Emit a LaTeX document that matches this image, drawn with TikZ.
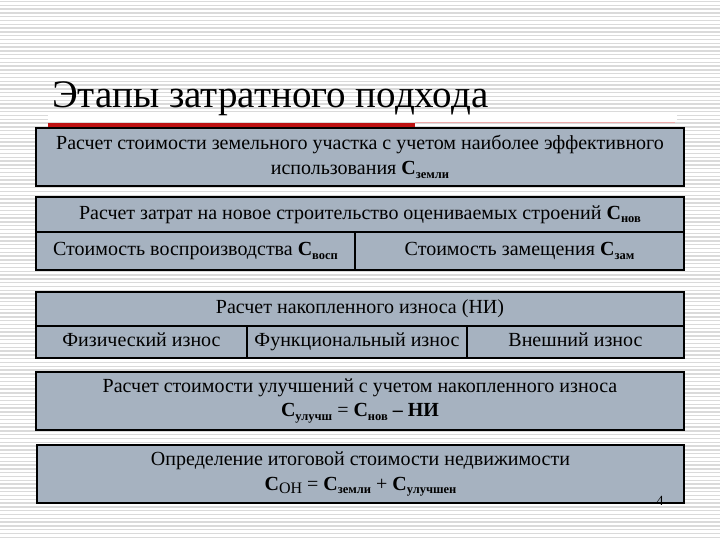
\documentclass[tikz,border=0pt]{standalone}
\usepackage{fontspec}
\setmainfont{Liberation Serif}
\definecolor{boxfill}{RGB}{166,178,192}
\definecolor{stripecol}{RGB}{218,218,218}
\definecolor{redbar}{RGB}{190,18,18}
\definecolor{pinkline}{RGB}{238,170,170}
\newcommand{\mysub}[1]{\raisebox{-0.4ex}{\fontsize{12.5}{12.5}\selectfont\bfseries #1}}
\newcommand{\bigC}{\textbf{С}}
\begin{document}
\begin{tikzpicture}[x=1pt,y=-1pt,
  cell/.style={draw=black, line width=1.2pt, fill=boxfill, inner sep=0pt,
    font=\fontsize{20}{25}\selectfont, align=center},
  oneline/.style={cell, text height=13.5pt, text depth=4.5pt},
  stripe/.style={draw=stripecol, line width=1.3pt}]
\useasboundingbox (0,0) rectangle (720,540);
\fill[white] (0,0) rectangle (720,540);
\foreach \y in {1.5,5.3,...,540} \draw[stripe] (0,\y) -- (720,\y);
% title
\fill[white] (48,113) rectangle (677,122);
\node[font=\fontsize{39}{39}\selectfont, anchor=base west, inner sep=0pt] (title) at (52,108) {Этапы затратного подхода};
\fill[redbar] (48,123) rectangle (415,128);
\draw[pinkline, line width=1pt] (415,122.5) -- (675,122.5);
% box 1
\node[cell, minimum width=648pt, minimum height=58pt] (land) at (360,157)
  {Расчет стоимости земельного участка с учетом наиболее эффективного\\
   использования \bigC\mysub{земли}};
% box 2
\node[oneline, minimum width=648pt, minimum height=35pt] (newc) at (360,214.5)
  {Расчет затрат на новое строительство оцениваемых строений \bigC\mysub{нов}};
\node[oneline, minimum width=319pt, minimum height=38pt] (repro) at (195.5,251)
  {Стоимость воспроизводства \bigC\mysub{восп}};
\node[oneline, minimum width=329pt, minimum height=38pt] (repl) at (519.5,251)
  {Стоимость замещения \bigC\mysub{зам}};
% box 3
\node[oneline, minimum width=648pt, minimum height=34pt] (wear) at (360,309)
  {Расчет накопленного износа (НИ)};
\node[oneline, minimum width=211pt, minimum height=32pt] (phys) at (141.5,342)
  {Физический износ};
\node[oneline, minimum width=220pt, minimum height=32pt] (func) at (357,342)
  {Функциональный износ};
\node[oneline, minimum width=217pt, minimum height=32pt] (ext) at (575.5,342)
  {Внешний износ};
% box 4
\node[cell, minimum width=648pt, minimum height=58pt] (impr) at (360,401)
  {Расчет стоимости улучшений с учетом накопленного износа\\[-1pt]
   \bigC\mysub{улучш} = \bigC\mysub{нов} \textbf{– НИ}\rule[-7pt]{0pt}{0pt}};
% box 5
\node[cell, minimum width=647pt, minimum height=58pt] (total) at (360.5,474)
  {Определение итоговой стоимости недвижимости\\
   \bigC\raisebox{-0.4ex}{\fontsize{16}{16}\selectfont ОН} = \bigC\mysub{земли} + \bigC\mysub{улучшен}};
\node[font=\fontsize{14}{14}\selectfont, text=black, inner sep=0pt] (pg) at (660,501) {4};
\end{tikzpicture}
\end{document}
